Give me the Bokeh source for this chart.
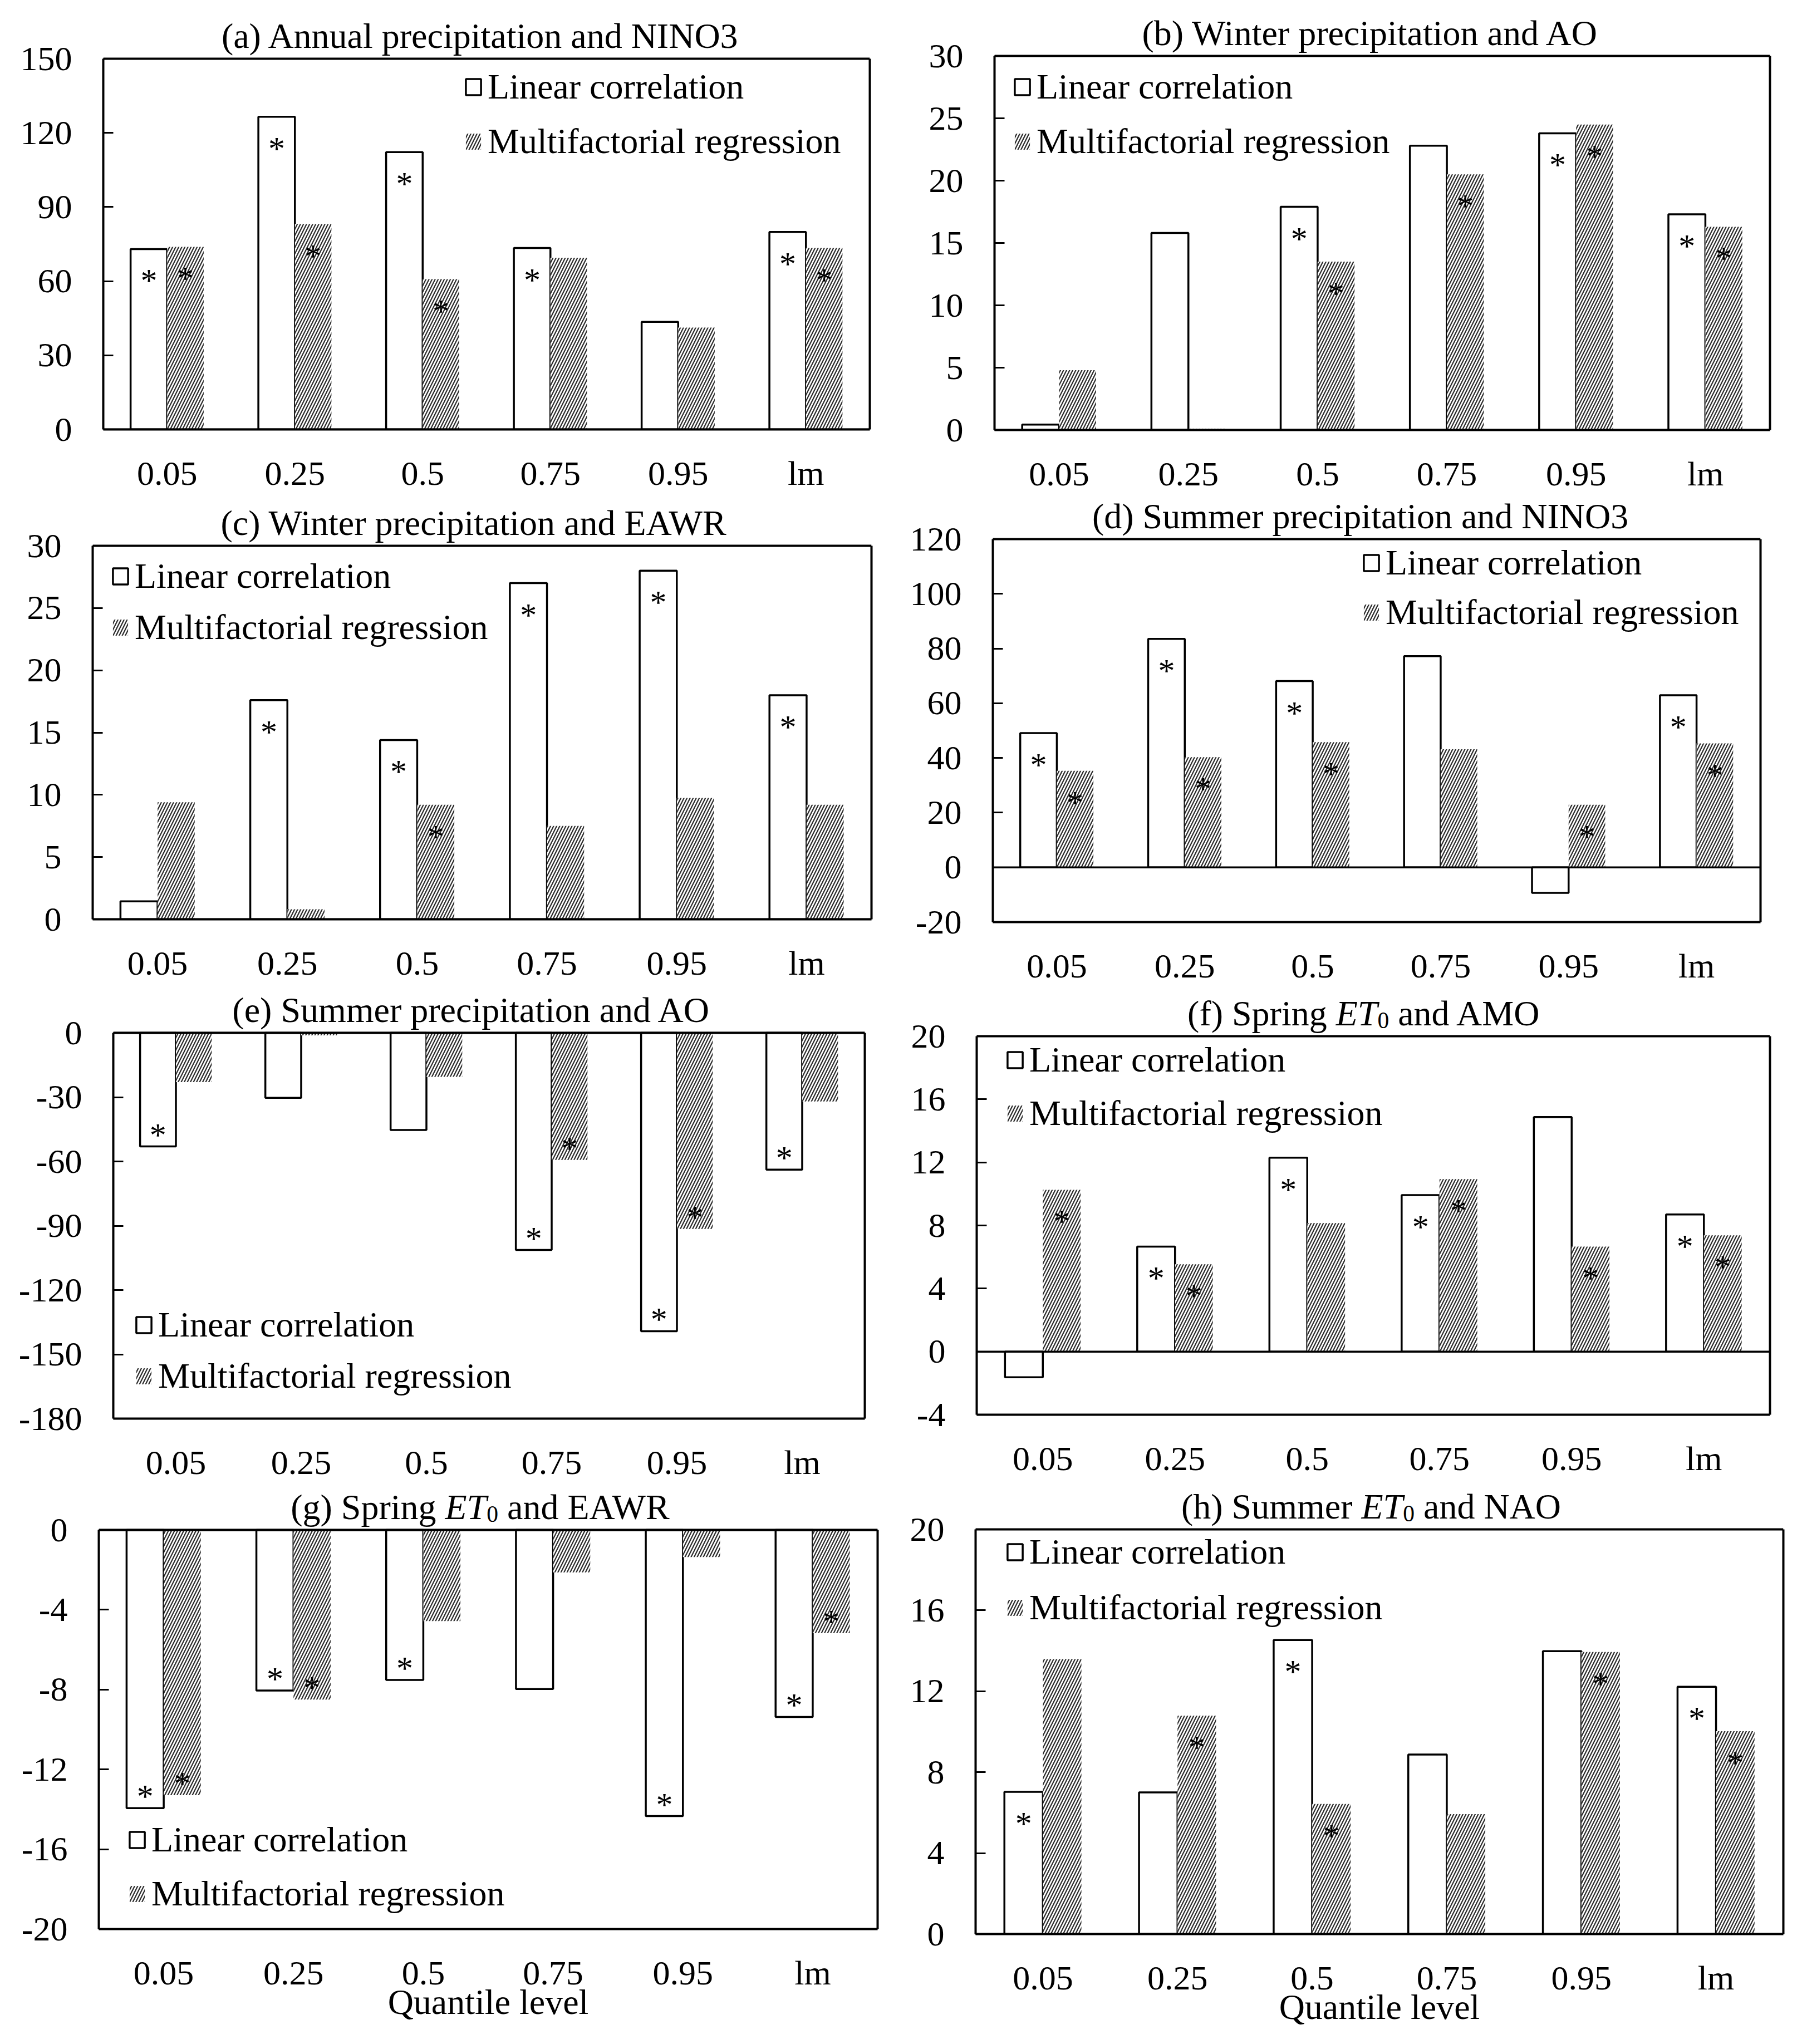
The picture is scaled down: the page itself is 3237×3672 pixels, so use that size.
from bokeh.plotting import figure
from bokeh.models import (ColumnDataSource, FixedTicker, Range1d, Span, Label,
                          Legend, LegendItem, FactorRange, LinearAxis)
from bokeh.layouts import column, row
from bokeh.transform import dodge
from bokeh.embed import file_html
from bokeh.resources import INLINE
from bokeh.core.properties import value

FONT = "Liberation Serif"

quantiles = ["0.05", "0.25", "0.5", "0.75", "0.95", "lm"]

# (a) Annual precipitation and NINO3
a_linear = [73.0, 126.5, 112.2, 73.4, 43.5, 79.9]
a_multi = [73.9, 83.1, 60.8, 69.5, 41.2, 73.4]
a_linear_sig = [1, 1, 1, 1, 0, 1]
a_multi_sig = [1, 1, 1, 0, 0, 1]
a_yrange = (0, 150, 30)

# (b) Winter precipitation and AO
b_linear = [0.44, 15.8, 17.9, 22.8, 23.8, 17.3]
b_multi = [4.8, 0.1, 13.5, 20.5, 24.5, 16.3]
b_linear_sig = [0, 0, 1, 0, 1, 1]
b_multi_sig = [0, 0, 1, 1, 1, 1]
b_yrange = (0, 30, 5)

# (c) Winter precipitation and EAWR
c_linear = [1.44, 17.6, 14.4, 27.0, 28.0, 18.0]
c_multi = [9.4, 0.8, 9.2, 7.5, 9.75, 9.2]
c_linear_sig = [0, 1, 1, 1, 1, 1]
c_multi_sig = [0, 0, 1, 0, 0, 0]
c_yrange = (0, 30, 5)

# (d) Summer precipitation and NINO3
d_linear = [49.1, 83.5, 68.1, 77.2, -9.3, 62.9]
d_multi = [35.3, 40.3, 45.8, 43.2, 22.9, 45.3]
d_linear_sig = [1, 1, 1, 0, 0, 1]
d_multi_sig = [1, 1, 1, 0, 1, 1]
d_yrange = (-20, 120, 20)

# (e) Summer precipitation and AO
e_linear = [-53.0, -30.3, -45.3, -101.3, -139.2, -63.8]
e_multi = [-23.0, -1.2, -20.5, -59.3, -91.5, -32.0]
e_linear_sig = [1, 0, 0, 1, 1, 1]
e_multi_sig = [0, 0, 0, 1, 1, 0]
e_yrange = (-180, 0, 30)

# (f) Spring ET0 and AMO
f_linear = [-1.63, 6.66, 12.3, 9.92, 14.87, 8.7]
f_multi = [10.26, 5.54, 8.15, 10.94, 6.66, 7.37]
f_linear_sig = [0, 1, 1, 1, 0, 1]
f_multi_sig = [1, 1, 0, 1, 1, 1]
f_yrange = (-4, 20, 4)

# (g) Spring ET0 and EAWR
g_linear = [-13.94, -8.05, -7.52, -7.97, -14.34, -9.37]
g_multi = [-13.29, -8.5, -4.57, -2.13, -1.36, -5.17]
g_linear_sig = [1, 1, 1, 0, 1, 1]
g_multi_sig = [1, 1, 0, 0, 0, 1]
g_yrange = (-20, 0, 4)

# (h) Summer ET0 and NAO
h_linear = [7.03, 7.0, 14.53, 8.87, 13.98, 12.22]
h_multi = [13.59, 10.79, 6.43, 5.93, 13.94, 10.03]
h_linear_sig = [1, 0, 1, 0, 0, 1]
h_multi_sig = [0, 1, 1, 0, 1, 1]
h_yrange = (0, 20, 4)

legend_labels = ["Linear correlation", "Multifactorial regression"]
x_title = "Quantile level"

# Times / Liberation Serif advance widths (per 1000 em) for title layout
ROMAN_W = {" ": 250, "(": 333, ")": 333, "0": 500, "A": 722, "E": 611, "M": 889,
           "N": 722, "O": 722, "R": 667, "S": 556, "T": 611, "W": 944, "a": 444,
           "d": 500, "e": 444, "f": 333, "g": 500, "h": 500, "i": 278, "m": 778,
           "n": 500, "p": 500, "r": 333, "u": 500}
ITALIC_W = {"E": 611, "T": 556}

TITLE_PX = 64
TICK_PX = 62
LEG_PX = 64
EDGE_W = 4
TITLE_RAISE = 41


def seg_width(text, style, size):
    table = ITALIC_W if style == "italic" else ROMAN_W
    return sum(table.get(ch, 500) for ch in text) / 1000.0 * size


def make_panel(title_segs, title_dx, lin, multi, lin_sig, multi_sig, yr, geom, leg,
               xlabel=None):
    # geom: left border, right border, space above box (holds title), bottom border,
    #       box width, box height  (all px)
    L, BR, T, BB, FW, FH = geom
    lo, hi, step = yr
    upp = (hi - lo) / FH              # data units per pixel
    top_ext = hi + T * upp            # frame extends above the box to hold the title
    p = figure(x_range=FactorRange(*quantiles), y_range=Range1d(lo, top_ext),
               width=L + FW + BR, height=T + FH + BB,
               frame_width=FW, frame_height=T + FH,
               min_border_left=L, min_border_right=BR,
               min_border_top=0, min_border_bottom=BB,
               title=None, output_backend="svg", toolbar_location=None, tools="")
    p.background_fill_color = "white"
    p.border_fill_color = "white"
    p.grid.visible = False
    p.outline_line_color = None

    ticks = list(range(lo, hi + step, step))
    # left y axis (box left edge)
    p.yaxis.ticker = FixedTicker(ticks=ticks)
    p.yaxis.bounds = (lo, hi)
    p.yaxis.major_label_overrides = {t: str(t) for t in ticks}
    p.yaxis.major_tick_in = 18
    p.yaxis.major_tick_out = 0
    p.yaxis.major_tick_line_width = 3
    p.yaxis.minor_tick_line_color = None
    p.yaxis.axis_line_width = EDGE_W
    p.yaxis.axis_line_color = "black"
    p.yaxis.major_label_standoff = 56
    p.yaxis.major_label_text_font = FONT
    p.yaxis.major_label_text_font_size = f"{TICK_PX}px"
    p.yaxis.major_label_text_color = "black"

    # right edge of the box
    right_edge = LinearAxis(bounds=(lo, hi), ticker=FixedTicker(ticks=[]),
                            axis_line_width=EDGE_W, axis_line_color="black",
                            major_tick_line_color=None, minor_tick_line_color=None,
                            major_label_text_font_size="0px", major_label_standoff=0)
    p.add_layout(right_edge, "right")

    # x axis (box bottom edge)
    p.xaxis.axis_line_color = "black"
    p.xaxis.axis_line_width = EDGE_W
    p.xaxis.major_tick_line_color = None
    p.xaxis.minor_tick_line_color = None
    p.xaxis.major_label_standoff = 38
    p.xaxis.major_label_text_font = FONT
    p.xaxis.major_label_text_font_size = f"{TICK_PX}px"
    p.xaxis.major_label_text_color = "black"
    if xlabel:
        p.xaxis.axis_label = xlabel
        p.xaxis.axis_label_text_font = FONT
        p.xaxis.axis_label_text_font_size = f"{TITLE_PX}px"
        p.xaxis.axis_label_text_font_style = "normal"
        p.xaxis.axis_label_text_color = "black"
        p.xaxis.axis_label_standoff = -20

    # top edge of the box
    p.add_layout(Span(location=hi, dimension="width", line_color="black",
                      line_width=EDGE_W))

    src = ColumnDataSource(dict(q=quantiles, lin=lin, multi=multi))
    bw = 0.286
    r_lin = p.vbar(x=dodge("q", -bw / 2, range=p.x_range), top="lin", bottom=0,
                   width=bw, source=src, fill_color="white",
                   line_color="black", line_width=3.5)
    r_mul = p.vbar(x=dodge("q", bw / 2, range=p.x_range), top="multi", bottom=0,
                   width=bw, source=src, fill_color="white", line_color=None,
                   hatch_pattern="/", hatch_color="#2a2a2a", hatch_weight=2.2,
                   hatch_scale=11)

    # zero line
    p.add_layout(Span(location=0, dimension="width", line_color="black",
                      line_width=3.5))

    # significance stars
    for vals, sig, off in ((lin, lin_sig, -bw / 2), (multi, multi_sig, bw / 2)):
        qs = [q for q, s in zip(quantiles, sig) if s]
        ys = [v for v, s in zip(vals, sig) if s]
        yo = [57 if v >= 0 else -21 for v in ys]
        ssrc = ColumnDataSource(dict(q=qs, y=ys, t=["*"] * len(qs), yo=yo))
        p.text(x=dodge("q", off, range=p.x_range), y="y", text="t", y_offset="yo",
               source=ssrc, text_font=value(FONT), text_font_size=value("60px"),
               text_align="center", text_baseline="alphabetic", text_color="black")

    # title: text segments placed just above the box
    total = sum(seg_width(t, st, TITLE_PX * sf) for t, st, sf, dy in title_segs)
    x0 = FW / 2 - total / 2 + title_dx
    for t, st, sf, dy in title_segs:
        sz = TITLE_PX * sf
        lead = len(t) - len(t.lstrip(" "))
        x0 += seg_width(" " * lead, st, sz)
        body = t.strip(" ")
        p.add_layout(Label(x=x0, y=hi + (TITLE_RAISE + dy) * upp, x_units="screen",
                           y_units="data", text=body, text_font=FONT,
                           text_font_size=f"{sz:.1f}px", text_font_style=st,
                           text_align="left", text_baseline="alphabetic",
                           text_color="black"))
        x0 += seg_width(t.lstrip(" "), st, sz)

    # legend
    anchor, mx, dy, pitch = leg
    item_h = 76
    spacing = pitch - item_h
    leg_h = 2 * item_h + spacing
    if anchor == "top":
        vy = FH - (dy - item_h / 2) - leg_h
    else:
        vy = dy - item_h / 2
    legend = Legend(items=[LegendItem(label=legend_labels[0], renderers=[r_lin]),
                           LegendItem(label=legend_labels[1], renderers=[r_mul])],
                    location=(mx, vy), orientation="vertical",
                    padding=0, margin=0, spacing=spacing,
                    glyph_width=34, glyph_height=36, label_height=item_h,
                    label_standoff=9,
                    label_text_font=FONT, label_text_font_size=f"{LEG_PX}px",
                    label_text_color="black",
                    border_line_alpha=0, background_fill_alpha=0)
    p.add_layout(legend)
    return p


def plain(t):
    return [(t, "normal", 1.0, 0)]


def et(prefix, suffix):
    return [(prefix, "normal", 1.0, 0), ("ET", "italic", 1.0, 0),
            ("0", "normal", 0.65, -12), (suffix, "normal", 1.0, 0)]


# geometry: left border, right border, space above box, bottom border, box w, box h
pa = make_panel(plain("(a) Annual precipitation and NINO3"), 18, a_linear, a_multi,
                a_linear_sig, a_multi_sig, a_yrange, (185, 50, 105, 120, 1377, 666),
                ("top", 648, 51, 98))
pb = make_panel(plain("(b) Winter precipitation and AO"), 4, b_linear, b_multi,
                b_linear_sig, b_multi_sig, b_yrange, (174, 45, 100, 119, 1393, 672),
                ("top", 33, 56, 98))
pc = make_panel(plain("(c) Winter precipitation and EAWR"), 14, c_linear, c_multi,
                c_linear_sig, c_multi_sig, c_yrange, (166, 47, 89, 122, 1399, 671),
                ("top", 33, 55, 92))
pd = make_panel(plain("(d) Summer precipitation and NINO3"), -8, d_linear, d_multi,
                d_linear_sig, d_multi_sig, d_yrange, (171, 62, 77, 117, 1379, 688),
                ("top", 663, 43, 89))
pe = make_panel(plain("(e) Summer precipitation and AO"), -15, e_linear, e_multi,
                e_linear_sig, e_multi_sig, e_yrange, (203, 59, 82, 117, 1350, 693),
                ("bottom", 38, 76, 92))
pf = make_panel(et("(f) Spring ", " and AMO"), -16, f_linear, f_multi,
                f_linear_sig, f_multi_sig, f_yrange, (142, 45, 88, 124, 1425, 680),
                ("top", 52, 43, 96))
pg = make_panel(et("(g) Spring ", " and EAWR"), -12, g_linear, g_multi,
                g_linear_sig, g_multi_sig, g_yrange, (177, 36, 83, 196, 1399, 717),
                ("bottom", 52, 63, 97), xlabel=x_title)
ph = make_panel(et("(h) Summer ", " and NAO"), -15, h_linear, h_multi,
                h_linear_sig, h_multi_sig, h_yrange, (140, 21, 82, 187, 1451, 727),
                ("top", 54, 41, 100), xlabel=x_title)

layout = column(row(pa, pb), row(pc, pd), row(pe, pf), row(pg, ph))

with open("out.html", "w") as fh:
    fh.write(file_html(layout, INLINE))
